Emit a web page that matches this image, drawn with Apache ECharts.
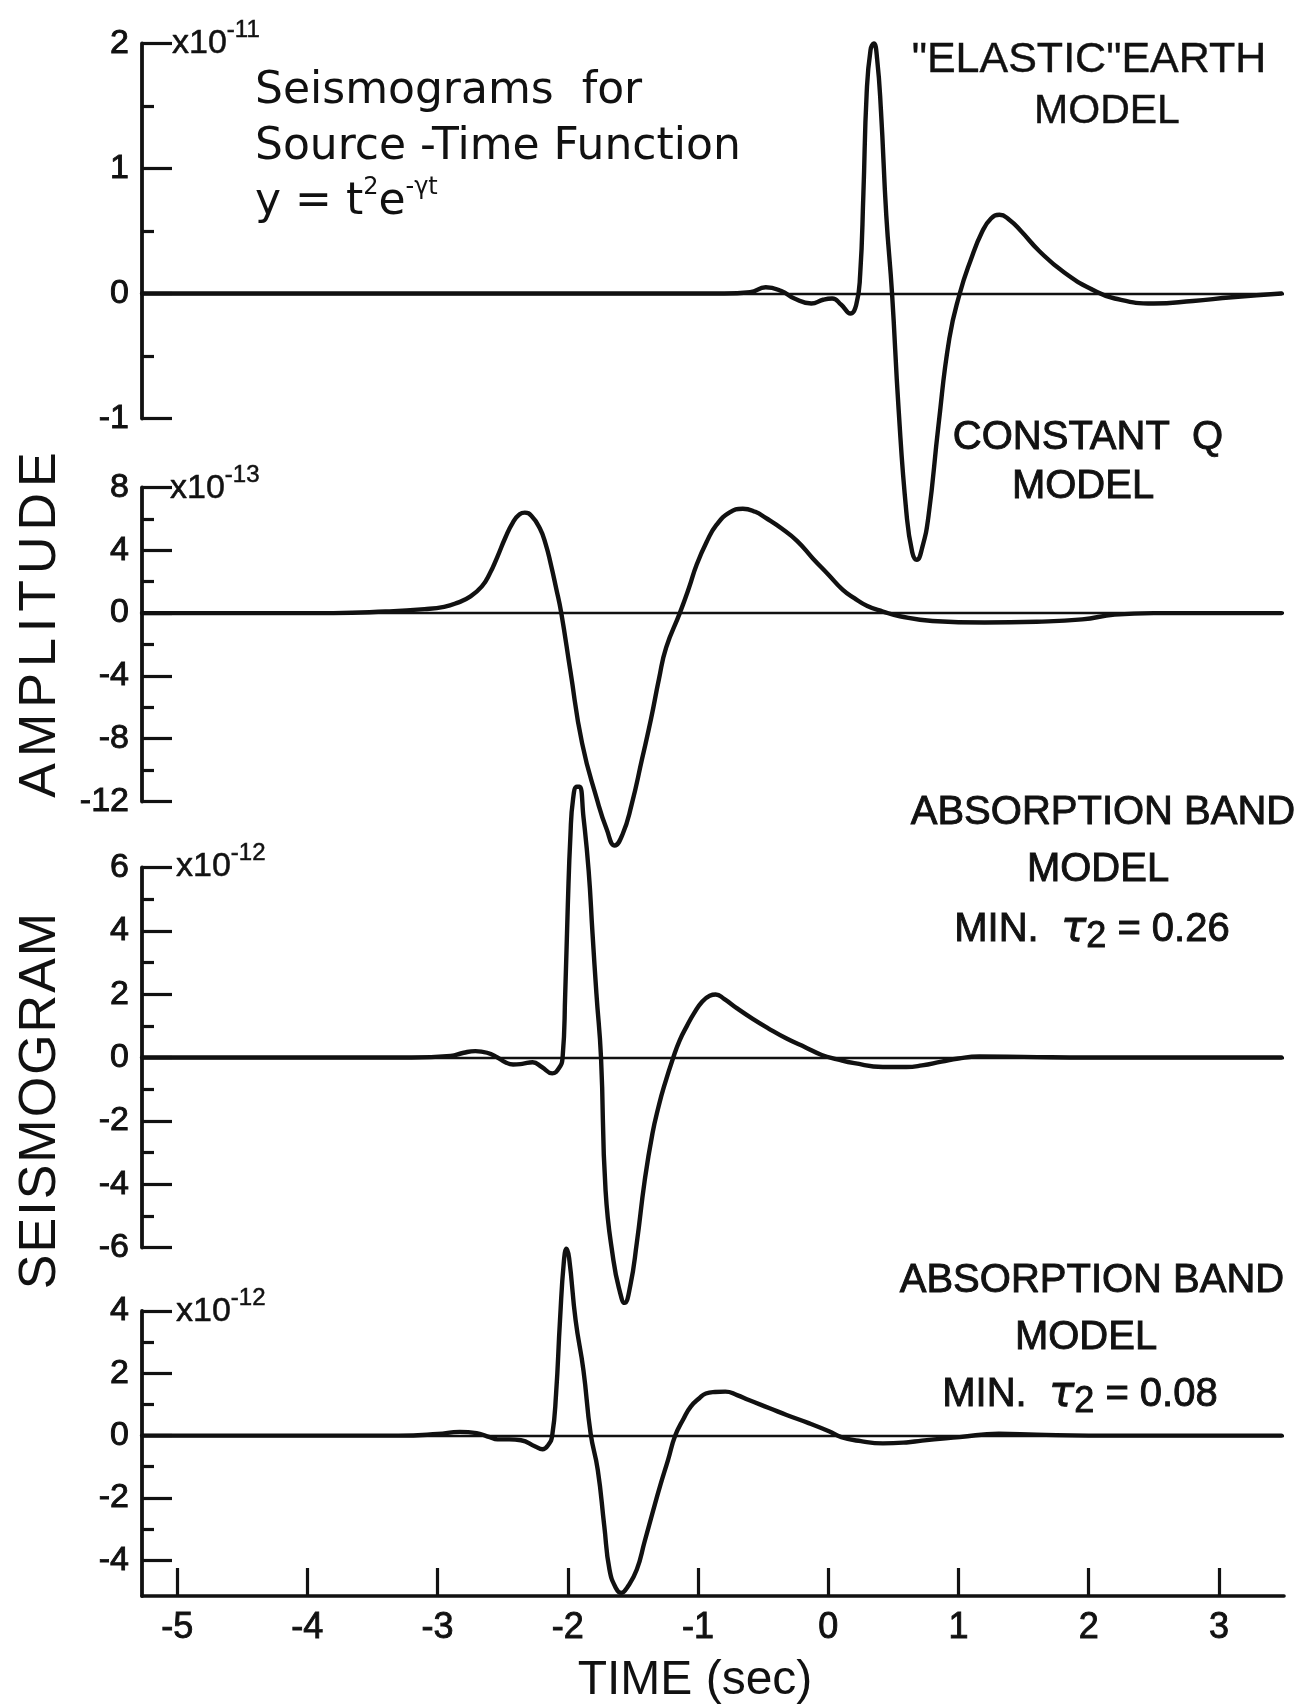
<!DOCTYPE html>
<html>
<head>
<meta charset="utf-8">
<title>Seismograms for Source-Time Function</title>
<script src="https://cdn.jsdelivr.net/npm/echarts@6/dist/echarts.min.js"></script>
<style>
  html, body { margin: 0; padding: 0; background: #ffffff; }
  #chart { width: 1316px; height: 1705px; }
</style>
</head>
<body>
<div id="chart"></div>
<script>
// ---- Time axis (sec) ----
const timeTicks = [-5, -4, -3, -2, -1, 0, 1, 2, 3];
const timeRange = [-5.27, 3.5];

// ---- "Elastic" earth model (x1e-11) ----
const elasticTime = [-5.27, -0.8, -0.6, -0.48, -0.36, -0.26, -0.13, -0.04, 0.03, 0.1, 0.17, 0.215, 0.245, 0.27, 0.295, 0.325, 0.35, 0.375, 0.405, 0.446, 0.49, 0.54, 0.6, 0.645, 0.68, 0.72, 0.77, 0.846, 0.93, 1.01, 1.095, 1.18, 1.25, 1.315, 1.39, 1.48, 1.62, 1.81, 2.03, 2.2, 2.5, 2.8, 3.1, 3.48];
const elasticAmp  = [0, 0, 0.01, 0.05, 0.02, -0.04, -0.08, -0.05, -0.04, -0.09, -0.16, -0.09, 0.15, 0.8, 1.6, 1.95, 2.0, 1.88, 1.46, 0.62, 0.0, -0.92, -1.75, -2.07, -2.13, -2.04, -1.78, -1.06, -0.36, 0.0, 0.27, 0.49, 0.6, 0.63, 0.59, 0.5, 0.34, 0.17, 0.03, -0.04, -0.08, -0.06, -0.03, 0];
const elasticRange = [-1, 2];
const elasticTicks = [-1, 0, 1, 2];
const elasticMinorTicks = [-0.5, 0.5, 1.5];

// ---- Constant Q model (x1e-13) ----
const constQTime = [-5.27, -3.8, -3.4, -3.1, -2.95, -2.85, -2.75, -2.66, -2.6, -2.54, -2.48, -2.42, -2.37, -2.33, -2.28, -2.215, -2.17, -2.13, -2.09, -2.05, -1.98, -1.89, -1.775, -1.7, -1.64, -1.58, -1.51, -1.43, -1.36, -1.3, -1.245, -1.14, -1.07, -1.01, -0.93, -0.86, -0.76, -0.656, -0.56, -0.48, -0.36, -0.24, -0.12, 0.0, 0.11, 0.2, 0.3, 0.42, 0.55, 0.8, 1.2, 1.6, 1.95, 2.2, 2.5, 3.48];
const constQAmp  = [0, 0, 0.1, 0.25, 0.4, 0.65, 1.05, 1.7, 2.5, 3.6, 4.8, 5.8, 6.3, 6.4, 6.2, 5.4, 4.4, 3.1, 1.6, 0, -3.7, -8.3, -11.9, -13.8, -14.8, -14.1, -12.2, -9.3, -6.7, -4.2, -2.2, 0, 1.6, 3.1, 4.6, 5.6, 6.4, 6.65, 6.45, 6.06, 5.4, 4.6, 3.5, 2.46, 1.5, 0.95, 0.45, 0.1, -0.2, -0.5, -0.6, -0.55, -0.4, -0.1, 0, 0];
const constQRange = [-12, 8];
const constQTicks = [-12, -8, -4, 0, 4, 8];
const constQMinorTicks = [-10, -6, -2, 2, 6];

// ---- Absorption band model, min tau2 = 0.26 (x1e-12) ----
const band26Time = [-5.27, -3.2, -2.9, -2.8, -2.71, -2.62, -2.54, -2.48, -2.42, -2.35, -2.27, -2.2, -2.12, -2.07, -2.04, -2.02, -2.0, -1.98, -1.96, -1.93, -1.91, -1.88, -1.84, -1.81, -1.78, -1.745, -1.71, -1.65, -1.6, -1.565, -1.52, -1.47, -1.41, -1.35, -1.3, -1.26, -1.19, -1.14, -1.086, -1.03, -0.967, -0.91, -0.864, -0.8, -0.7, -0.58, -0.464, -0.32, -0.17, -0.05, 0.07, 0.2, 0.42, 0.6, 0.72, 0.87, 1.0, 1.16, 1.5, 2.0, 3.48];
const band26Amp  = [0, 0, 0.05, 0.15, 0.2, 0.15, 0.0, -0.15, -0.22, -0.2, -0.15, -0.3, -0.5, -0.35, 0, 2.0, 4.8, 7.0, 8.15, 8.55, 8.55, 7.6, 5.9, 3.9, 2.0, 0, -4.2, -6.4, -7.4, -7.75, -7.2, -5.85, -3.9, -2.4, -1.5, -0.9, 0, 0.55, 0.99, 1.4, 1.77, 1.95, 1.99, 1.85, 1.55, 1.22, 0.93, 0.6, 0.31, 0.08, -0.06, -0.18, -0.3, -0.3, -0.25, -0.13, -0.03, 0.03, 0.02, 0, 0];
const band26Range = [-6, 6];
const band26Ticks = [-6, -4, -2, 0, 2, 4, 6];
const band26MinorTicks = [-5, -3, -1, 1, 3, 5];

// ---- Absorption band model, min tau2 = 0.08 (x1e-12) ----
const band08Time = [-5.27, -3.3, -3.0, -2.83, -2.7, -2.6, -2.54, -2.45, -2.36, -2.25, -2.195, -2.15, -2.12, -2.09, -2.06, -2.03, -2.01, -1.99, -1.94, -1.88, -1.825, -1.77, -1.72, -1.68, -1.63, -1.59, -1.54, -1.47, -1.41, -1.35, -1.29, -1.23, -1.175, -1.11, -1.056, -0.99, -0.94, -0.87, -0.79, -0.7, -0.61, -0.45, -0.32, -0.15, 0.01, 0.1, 0.25, 0.42, 0.6, 0.72, 1.01, 1.31, 1.6, 2.0, 3.48];
const band08Amp  = [0, 0, 0.05, 0.12, 0.08, -0.05, -0.12, -0.12, -0.15, -0.35, -0.44, -0.3, 0, 1.35, 3.7, 5.6, 6.0, 5.7, 3.7, 2.1, 0.07, -1.1, -2.9, -4.3, -4.9, -5.05, -4.85, -4.3, -3.4, -2.49, -1.6, -0.78, 0, 0.55, 0.93, 1.2, 1.35, 1.4, 1.41, 1.3, 1.14, 0.88, 0.66, 0.4, 0.13, -0.05, -0.18, -0.25, -0.22, -0.16, -0.05, 0.06, 0.03, 0, 0];
const band08Range = [-5.15, 4];
const band08Ticks = [-4, -2, 0, 2, 4];
const band08MinorTicks = [-3, -1, 1, 3];

// ---- build the chart ----
const ink = '#111111';
const sans = '"Liberation Sans", Arial, sans-serif';
const dejavu = '"DejaVu Sans", "Liberation Sans", sans-serif';

const traces = [
  { time: elasticTime, amp: elasticAmp, range: elasticRange, ticks: elasticTicks, minor: elasticMinorTicks },
  { time: constQTime, amp: constQAmp, range: constQRange, ticks: constQTicks, minor: constQMinorTicks },
  { time: band26Time, amp: band26Amp, range: band26Range, ticks: band26Ticks, minor: band26MinorTicks },
  { time: band08Time, amp: band08Amp, range: band08Range, ticks: band08Ticks, minor: band08MinorTicks }
];

// vertical placement of the four stacked panels (pixels)
const panelBoxes = [
  { top: 43.5, height: 375 },
  { top: 487.5, height: 314 },
  { top: 867.5, height: 380 },
  { top: 1311, height: 285 }
];

const grids = [], xAxes = [], yAxes = [], series = [];

traces.forEach((tr, i) => {
  const box = panelBoxes[i];
  grids.push({ left: 142, right: 32, top: box.top, height: box.height, containLabel: false });

  const isBottom = i === traces.length - 1;
  xAxes.push({
    type: 'value', gridIndex: i, min: timeRange[0], max: timeRange[1],
    show: isBottom,
    position: 'bottom',
    axisLine: { show: true, onZero: false, lineStyle: { color: ink, width: 3.6 } },
    axisTick: { show: true, inside: true, length: 28, customValues: timeTicks, lineStyle: { color: ink, width: 3.2 } },
    axisLabel: {
      show: true, customValues: timeTicks, margin: 14,
      fontSize: 36, color: ink, fontFamily: sans,
      textBorderColor: ink, textBorderWidth: 0.9,
      formatter: v => String(v)
    },
    splitLine: { show: false }
  });

  // major ticks + labels
  yAxes.push({
    type: 'value', gridIndex: i, min: tr.range[0], max: tr.range[1], position: 'left',
    axisLine: { show: true, onZero: false, lineStyle: { color: ink, width: 3.8 } },
    axisTick: { show: true, inside: true, length: 30, customValues: tr.ticks, lineStyle: { color: ink, width: 3.2 } },
    axisLabel: { show: true, customValues: tr.ticks, margin: 13, fontSize: 34, color: ink, fontFamily: sans,
                 textBorderColor: ink, textBorderWidth: 0.9,
                 formatter: v => String(v) },
    splitLine: { show: false }
  });
  // minor ticks
  yAxes.push({
    type: 'value', gridIndex: i, min: tr.range[0], max: tr.range[1], position: 'left',
    axisLine: { show: false, onZero: false },
    axisTick: { show: true, inside: true, length: 12, customValues: tr.minor, lineStyle: { color: ink, width: 3.2 } },
    axisLabel: { show: false },
    splitLine: { show: false }
  });

  series.push({
    type: 'line',
    xAxisIndex: i,
    yAxisIndex: i * 2,
    data: tr.time.map((t, k) => [t, tr.amp[k]]),
    symbol: 'none',
    showSymbol: false,
    smooth: 0.5,
    clip: false,
    lineStyle: { color: ink, width: 4.4, cap: 'round', join: 'round' },
    markLine: {
      silent: true,
      symbol: 'none',
      label: { show: false },
      lineStyle: { color: ink, width: 2.4, type: 'solid' },
      data: [{ yAxis: 0 }]
    },
    z: 3
  });
});

function textEl(x, y, text, size, opts) {
  opts = opts || {};
  const style = {
    text: text, fill: ink, fontSize: size,
    fontFamily: opts.family || sans,
    fontWeight: 'normal',
    align: opts.align || 'center', verticalAlign: 'middle'
  };
  if (opts.stroke) { style.stroke = ink; style.lineWidth = opts.stroke; }
  if (opts.rich) { style.rich = opts.rich; }
  return { type: 'text', x: x, y: y, rotation: opts.rotation || 0, z: 10, style: style };
}

// rich-text token style (zrender naming)
function tok(size, lh, family, extra) {
  return Object.assign({ fontSize: size, lineHeight: lh, fontFamily: family, fill: ink }, extra || {});
}

// exponent labels next to each panel's top tick
function scaleLabel(x, y, exp) {
  return textEl(x, y, '{b|x10}{s|' + exp + '}', 34, {
    align: 'left',
    rich: {
      b: tok(34, 52, sans, { stroke: ink, lineWidth: 0.5 }),
      s: tok(24, 22, sans, { verticalAlign: 'top', stroke: ink, lineWidth: 0.5 })
    }
  });
}

// letter-spaced text for the rotated amplitude titles
function spaced(word) {
  return word.split('').map(c => '{c|' + c + '}').join('');
}

const tauRich = {
  n: tok(40, 50, sans, { stroke: ink, lineWidth: 0.9 }),
  t: tok(42, 50, dejavu, { fontStyle: 'italic', stroke: ink, lineWidth: 0.9 }),
  sub: tok(36, 26, sans, { verticalAlign: 'bottom', stroke: ink, lineWidth: 0.9 })
};

const graphics = [
  // title block
  textEl(255, 92, 'Seismograms  for', 44, { align: 'left', family: dejavu }),
  textEl(255, 148, 'Source -Time Function', 44, { align: 'left', family: dejavu }),
  textEl(255, 203, '{n|y = t}{s|2}{n|e}{s|-γt}', 44, {
    align: 'left',
    rich: {
      n: tok(44, 54, dejavu),
      s: tok(24, 24, dejavu, { verticalAlign: 'top' })
    }
  }),

  // model captions
  textEl(1089, 60, '"ELASTIC"EARTH', 43, { stroke: 0.4 }),
  textEl(1107, 112, 'MODEL', 41, { stroke: 0.4 }),
  textEl(1088, 438, 'CONSTANT  Q', 40, { stroke: 0.9 }),
  textEl(1083, 487, 'MODEL', 40, { stroke: 0.9 }),
  textEl(1103, 813, 'ABSORPTION BAND', 40, { stroke: 0.9 }),
  textEl(1098, 870, 'MODEL', 40, { stroke: 0.9 }),
  textEl(1092, 930, '{n|MIN.  }{t|τ}{sub|2}{n| = 0.26}', 40, { rich: tauRich }),
  textEl(1092, 1281, 'ABSORPTION BAND', 40, { stroke: 0.9 }),
  textEl(1086, 1338, 'MODEL', 40, { stroke: 0.9 }),
  textEl(1080, 1395, '{n|MIN.  }{t|τ}{sub|2}{n| = 0.08}', 40, { rich: tauRich }),

  // exponent labels
  scaleLabel(172, 44, '-11'),
  scaleLabel(170, 489, '-13'),
  scaleLabel(176, 867, '-12'),
  scaleLabel(176, 1312, '-12'),

  // axis titles
  textEl(41, 625, spaced('AMPLITUDE'), 52, {
    rotation: Math.PI / 2,
    rich: { c: tok(52, 60, sans, { padding: [0, 3, 0, 3] }) }
  }),
  textEl(41, 1101, spaced('SEISMOGRAM'), 52, {
    rotation: Math.PI / 2,
    rich: { c: tok(52, 60, sans, { padding: [0, 1, 0, 1] }) }
  }),
  textEl(695, 1681, 'TIME (sec)', 48)
];

const chart = echarts.init(document.getElementById('chart'), null, { renderer: 'canvas' });
chart.setOption({
  animation: false,
  backgroundColor: '#ffffff',
  grid: grids,
  xAxis: xAxes,
  yAxis: yAxes,
  series: series,
  graphic: graphics
});
</script>
</body>
</html>
